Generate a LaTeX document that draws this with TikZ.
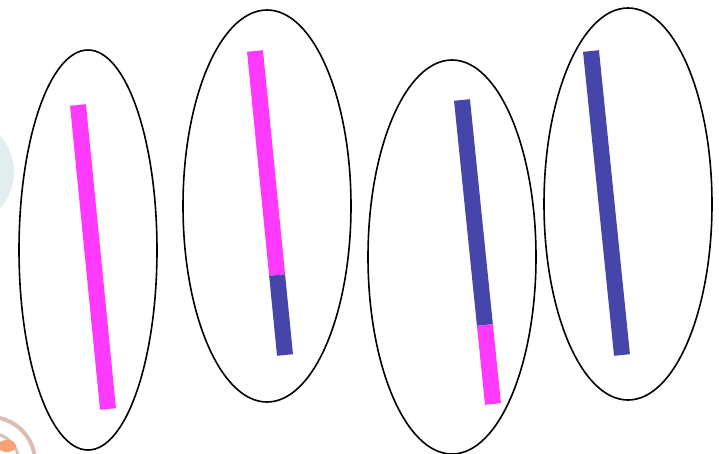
\documentclass[tikz,border=0pt]{standalone}
\usepackage{tikz}
\definecolor{chrpink}{RGB}{255,58,255}
\definecolor{chrblue}{RGB}{70,70,170}
\definecolor{ghostgray}{RGB}{226,237,239}
\definecolor{ghostring}{RGB}{218,190,180}
\definecolor{ghostorange}{RGB}{240,130,70}

\begin{document}
\begin{tikzpicture}[x=1pt,y=-1pt,
  cell/.style={line width=1.6pt},
  arm/.style={line width=16pt,line cap=butt}]
\useasboundingbox (0,0) rectangle (719,453);
\begin{scope}
\clip (0,0) rectangle (719,453);
% faint remains at the left edge
\fill[ghostgray] (-40,172) circle (54);
\draw[ghostring,line width=4pt] (-10,462) circle (45);
\draw[ghostring,line width=3pt] (-10,462) circle (29);
\fill[ghostorange!75] (7,446) ellipse (9 and 6);
% cells
\draw[cell] (88,250) ellipse (69 and 200);
\draw[cell] (267,206) ellipse (84 and 196);
\draw[cell] (452,257) ellipse (84 and 197);
\draw[cell] (628,204) ellipse (84 and 196);
\end{scope}
% chromosomes
\coordinate (a1) at (78,105);  \coordinate (a2) at (108,409);
\coordinate (b1) at (255,51);  \coordinate (bm) at (277.1,275); \coordinate (b2) at (285,355);
\coordinate (c1) at (462,100); \coordinate (cm) at (484.9,325); \coordinate (c2) at (493,404);
\coordinate (d1) at (591,51);  \coordinate (d2) at (622,355);
\draw[arm,chrpink] (a1) -- (a2);
\draw[arm,chrpink] (b1) -- (bm);
\draw[arm,chrblue] (bm) -- (b2);
\draw[arm,chrblue] (c1) -- (cm);
\draw[arm,chrpink] (cm) -- (c2);
\draw[arm,chrblue] (d1) -- (d2);
\end{tikzpicture}
\end{document}
